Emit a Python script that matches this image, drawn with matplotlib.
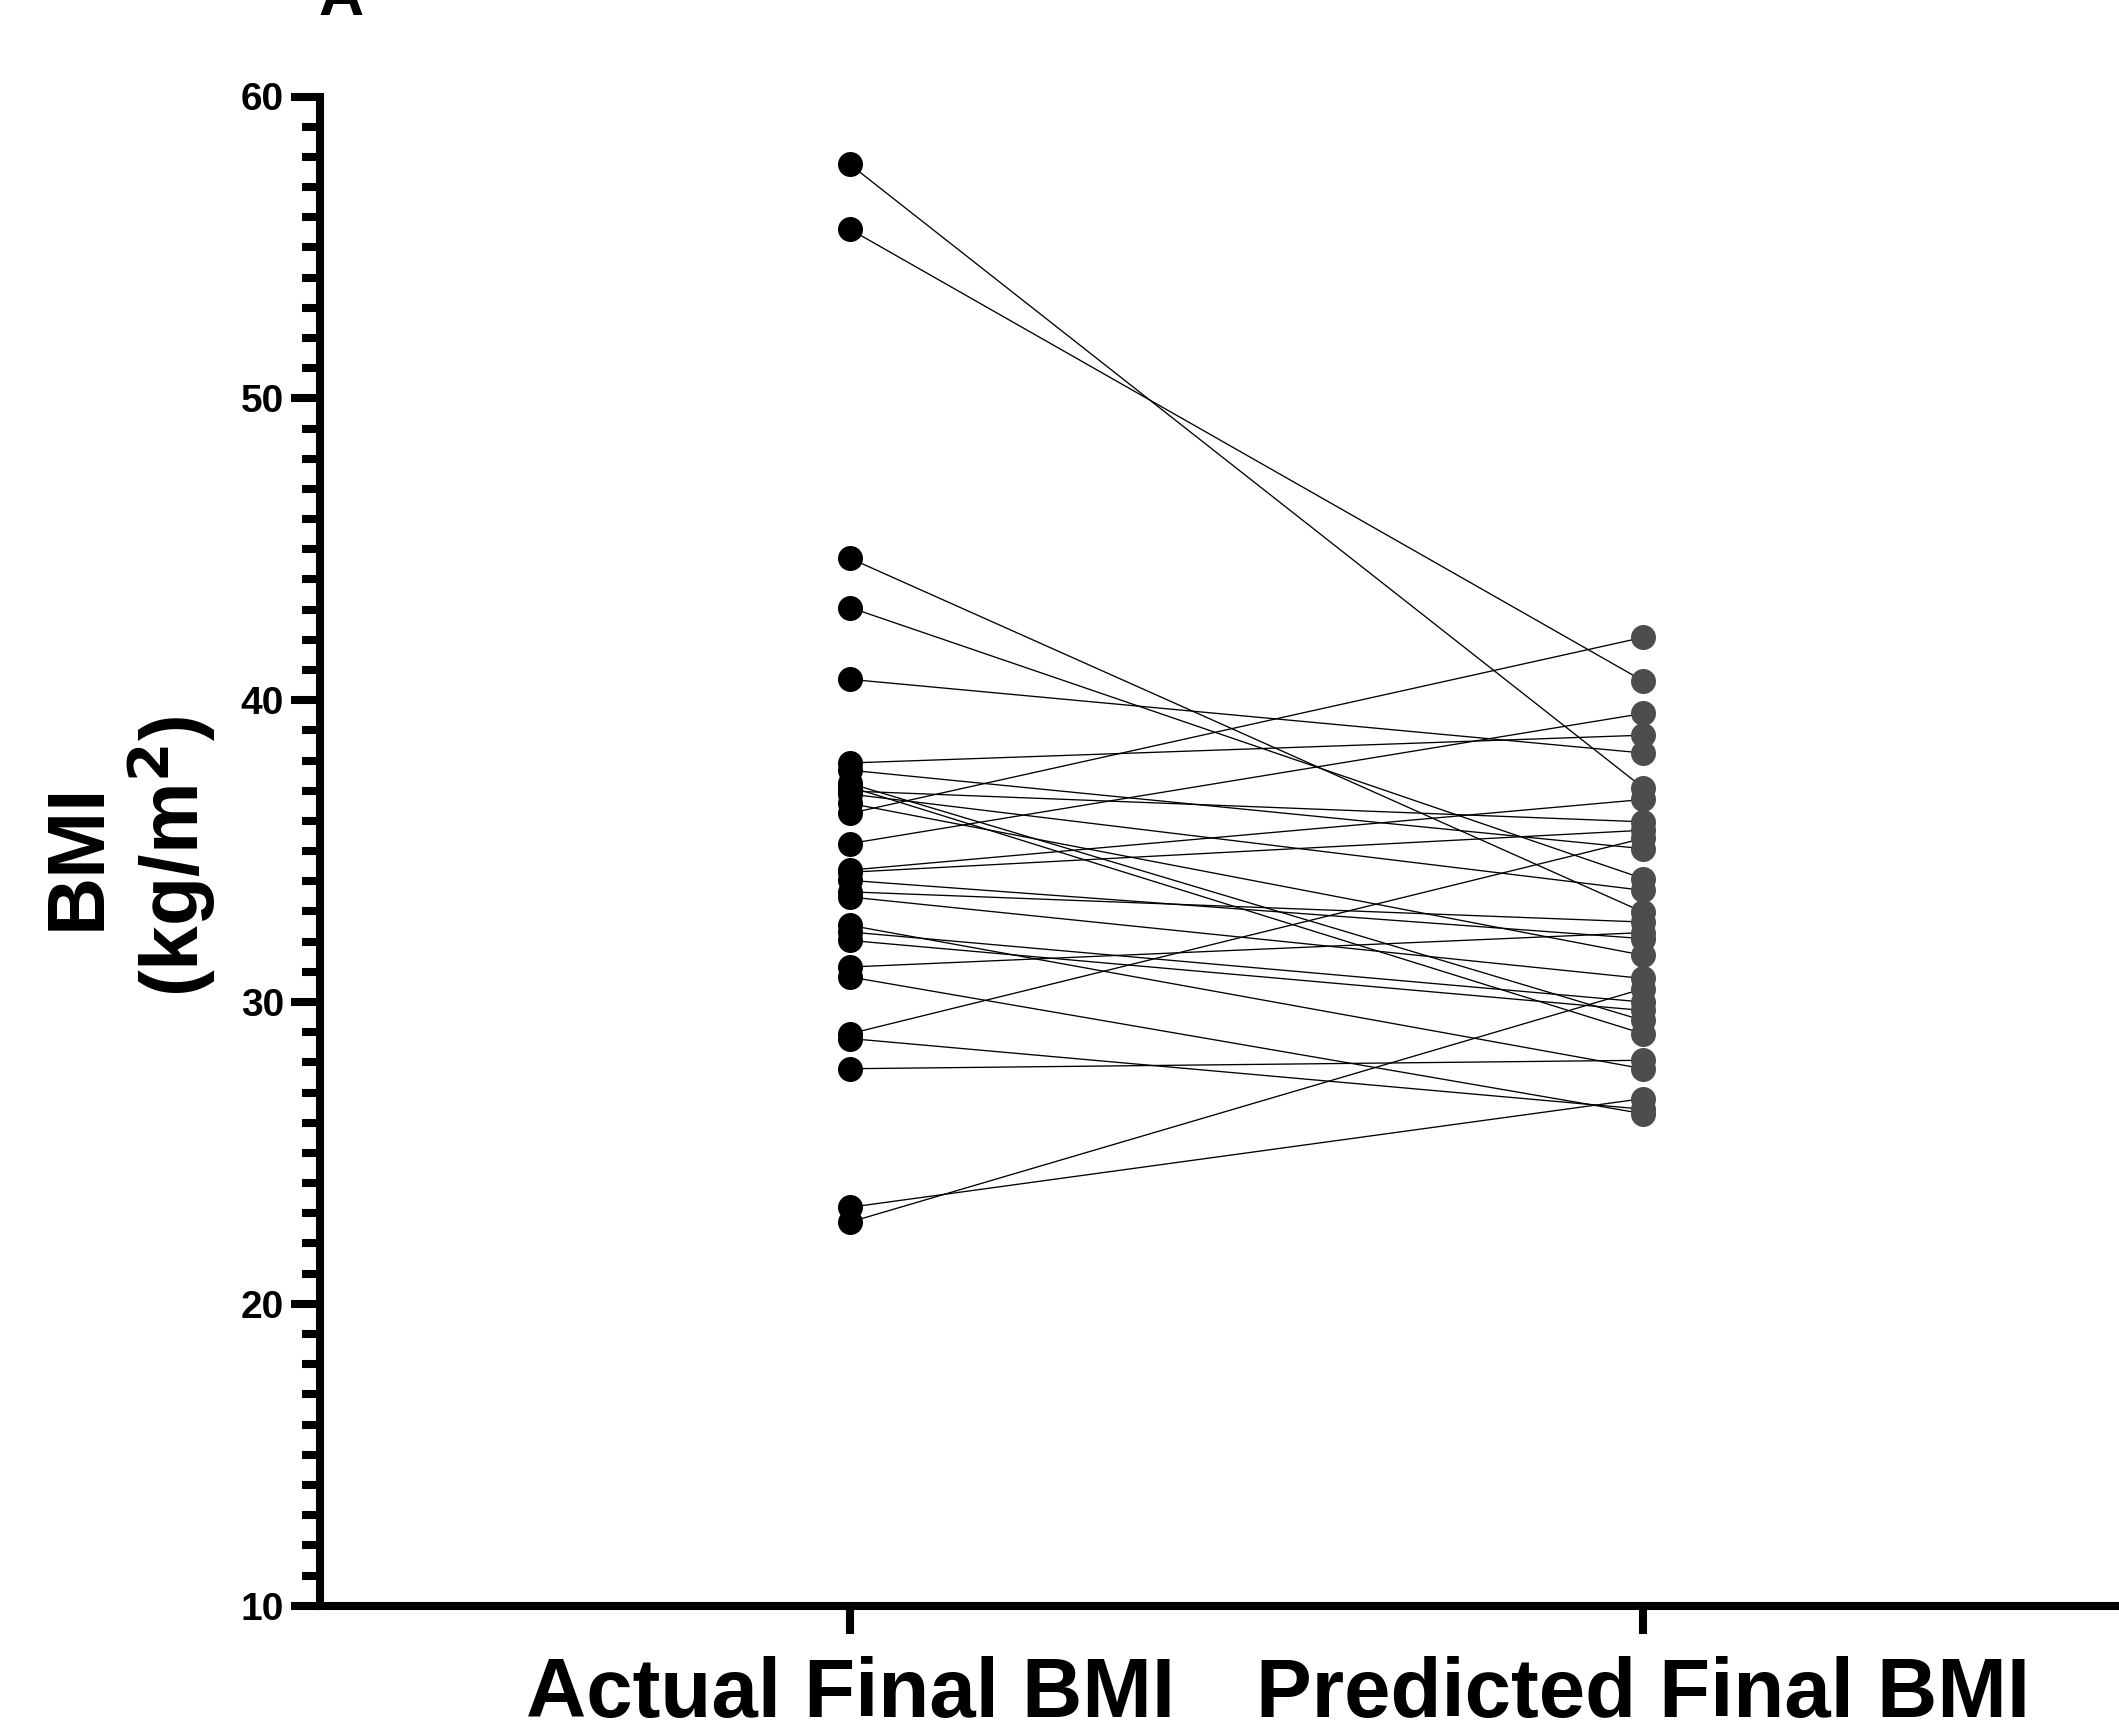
import matplotlib
matplotlib.use("Agg")
import matplotlib.pyplot as plt
from matplotlib.ticker import MultipleLocator

plt.rcParams['font.family'] = ['Liberation Sans', 'DejaVu Sans']
plt.rcParams['font.weight'] = 'bold'

categories = ["Actual Final BMI", "Predicted Final BMI"]
actual = [57.75, 55.60, 44.70, 43.07, 40.69, 37.92, 37.68, 37.24, 37.13, 36.99,
          36.89, 36.58, 36.25, 35.25, 34.37, 34.30, 34.03, 33.65, 33.48, 32.54,
          32.32, 32.04, 31.16, 30.83, 28.95, 28.79, 27.79, 23.20, 22.71]
predicted = [37.10, 40.64, 32.98, 34.09, 38.25, 38.84, 35.08, 29.39, 28.95, 35.97,
             33.70, 31.55, 42.08, 39.56, 36.71, 35.69, 32.10, 32.65, 30.78, 27.79,
             30.00, 29.72, 32.30, 26.30, 35.42, 26.45, 28.07, 26.80, 30.44]
yticks = [10, 20, 30, 40, 50, 60]

W, H = 2119, 1734
fig = plt.figure(figsize=(W / 100, H / 100), dpi=100)
ax_left, ax_bottom = 320 / W, (H - 1605.7) / H
ax_top = (H - 96.5) / H
ax_right_px = 2135
ax = fig.add_axes([ax_left, ax_bottom, (ax_right_px - 320) / W, ax_top - ax_bottom])

x0, x1 = 0, 1
for a, p in zip(actual, predicted):
    ax.plot([x0, x1], [a, p], color='black', lw=0.95, zorder=2, solid_capstyle='butt')
ax.plot([x0] * len(actual), actual, 'o', color='black', ms=18, mew=0, zorder=3, clip_on=False)
ax.plot([x1] * len(predicted), predicted, 'o', color='#4d4d4d', ms=18, mew=0, zorder=3, clip_on=False)

ax.set_ylim(10, 60)
ax.set_xlim((320 - 850) / 793, (ax_right_px - 850) / 793)
ax.set_yticks(yticks)
ax.yaxis.set_minor_locator(MultipleLocator(1))
ax.set_xticks([0, 1])
ax.set_xticklabels(categories, fontsize=60, fontweight='bold')
ax.tick_params(axis='y', which='major', length=21, width=5.8, labelsize=28, pad=5)
ax.tick_params(axis='y', which='minor', length=13, width=5.8)
ax.tick_params(axis='x', which='major', length=20, width=5.8, pad=16)
for lab in ax.get_yticklabels():
    lab.set_fontweight('bold')

for s in ['top', 'right']:
    ax.spines[s].set_visible(False)
for s in ['left', 'bottom']:
    ax.spines[s].set_linewidth(5.8)

fig.text(129 / W, 1 - 856 / H, "BMI\n(kg/m$\\mathbf{^2}$)", rotation=90, ha='center', va='center',
         fontsize=58, fontweight='bold', multialignment='center', linespacing=1.1)
fig.text(318 / W, (H - 15) / H, "A", fontsize=45, fontweight='bold', ha='left', va='baseline')

fig.savefig("out.png", dpi=100)
